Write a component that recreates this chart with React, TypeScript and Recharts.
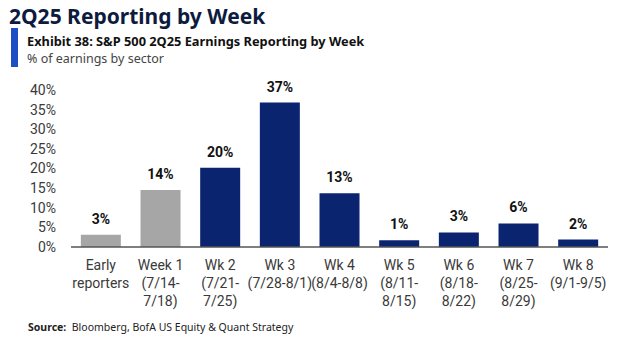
import React from "react";
import { BarChart, Bar, XAxis, YAxis, Cell, LabelList } from "recharts";

const categories = [
  "Early\nreporters",
  "Week 1\n(7/14-\n7/18)",
  "Wk 2\n(7/21-\n7/25)",
  "Wk 3\n(7/28-8/1)",
  "Wk 4\n(8/4-8/8)",
  "Wk 5\n(8/11-\n8/15)",
  "Wk 6\n(8/18-\n8/22)",
  "Wk 7\n(8/25-\n8/29)",
  "Wk 8\n(9/1-9/5)",
];
const shares = [3.1, 14.5, 20.2, 36.8, 13.7, 1.7, 3.7, 6.0, 1.9];
const shareLabels = ["3%", "14%", "20%", "37%", "13%", "1%", "3%", "6%", "2%"];
const reported = [true, true, false, false, false, false, false, false, false];
const yTicks = [0, 5, 10, 15, 20, 25, 30, 35, 40];

const NAVY = "#0b2470";
const GRAY = "#a6a6a6";
const FONT = 'Roboto, "Open Sans", sans-serif';

const data = categories.map((c, i) => ({
  name: c,
  value: shares[i],
  label: shareLabels[i],
  early: reported[i],
}));

function WeekTick(props: any) {
  const { x, y, payload } = props;
  const lines = String(payload.value).split("\n");
  return (
    <text x={x} y={y} textAnchor="middle" fill="#3a3a3a" fontSize={14} fontFamily={FONT}>
      {lines.map((l, i) => (
        <tspan key={i} x={x} y={y + 23 + i * 18}>
          {l}
        </tspan>
      ))}
    </text>
  );
}

export default function App() {
  return (
    <div style={{ position: "absolute", left: 0, top: 0, width: 620, height: 341, background: "#fff", overflow: "hidden" }}>
      <div style={{ position: "absolute", left: 9, top: 2, fontFamily: '"Noto Sans", sans-serif', fontWeight: 700, fontSize: 21, color: "#0d1b3e", whiteSpace: "nowrap" }}>
        2Q25 Reporting by Week
      </div>
      <div style={{ position: "absolute", left: 11, top: 28, width: 7, height: 39, background: "#1d4fc4" }} />
      <div style={{ position: "absolute", left: 27, top: 32, fontFamily: '"Noto Sans", sans-serif', fontWeight: 700, fontSize: 12.8, color: "#111", whiteSpace: "nowrap" }}>
        Exhibit 38: S&amp;P 500 2Q25 Earnings Reporting by Week
      </div>
      <div style={{ position: "absolute", left: 27, top: 50, fontFamily: '"Noto Sans", sans-serif', fontSize: 12.5, color: "#444", whiteSpace: "nowrap" }}>
        % of earnings by sector
      </div>
      <div style={{ position: "absolute", left: 0, top: 0 }}>
        <BarChart width={620} height={341} data={data} margin={{ top: 90, right: 12, left: 0, bottom: 34 }} barCategoryGap="16.5%">
          <XAxis
            dataKey="name"
            interval={0}
            tickLine={false}
            tickSize={0}
            tickMargin={0}
            height={60}
            axisLine={{ stroke: "#555", strokeWidth: 1.5 }}
            tick={<WeekTick />}
          />
          <YAxis
            domain={[0, 40]}
            ticks={yTicks}
            interval={0}
            width={71}
            axisLine={false}
            tickLine={false}
            tickSize={0}
            tickMargin={15}
            tickFormatter={(v) => `${v}%`}
            tick={{ fill: "#3a3a3a", fontSize: 14, fontFamily: FONT }}
          />
          <Bar dataKey="value" isAnimationActive={false}>
            {data.map((d, i) => (
              <Cell key={i} fill={d.early ? GRAY : NAVY} />
            ))}
            <LabelList dataKey="label" position="top" offset={11} fill="#111" fontSize={14} fontWeight={700} fontFamily={FONT} />
          </Bar>
        </BarChart>
      </div>
      <div style={{ position: "absolute", left: 28, top: 320, fontFamily: '"Noto Sans", sans-serif', fontSize: 10.5, color: "#222", whiteSpace: "nowrap" }}>
        <b>Source:</b>&nbsp; Bloomberg, BofA US Equity &amp; Quant Strategy
      </div>
    </div>
  );
}
